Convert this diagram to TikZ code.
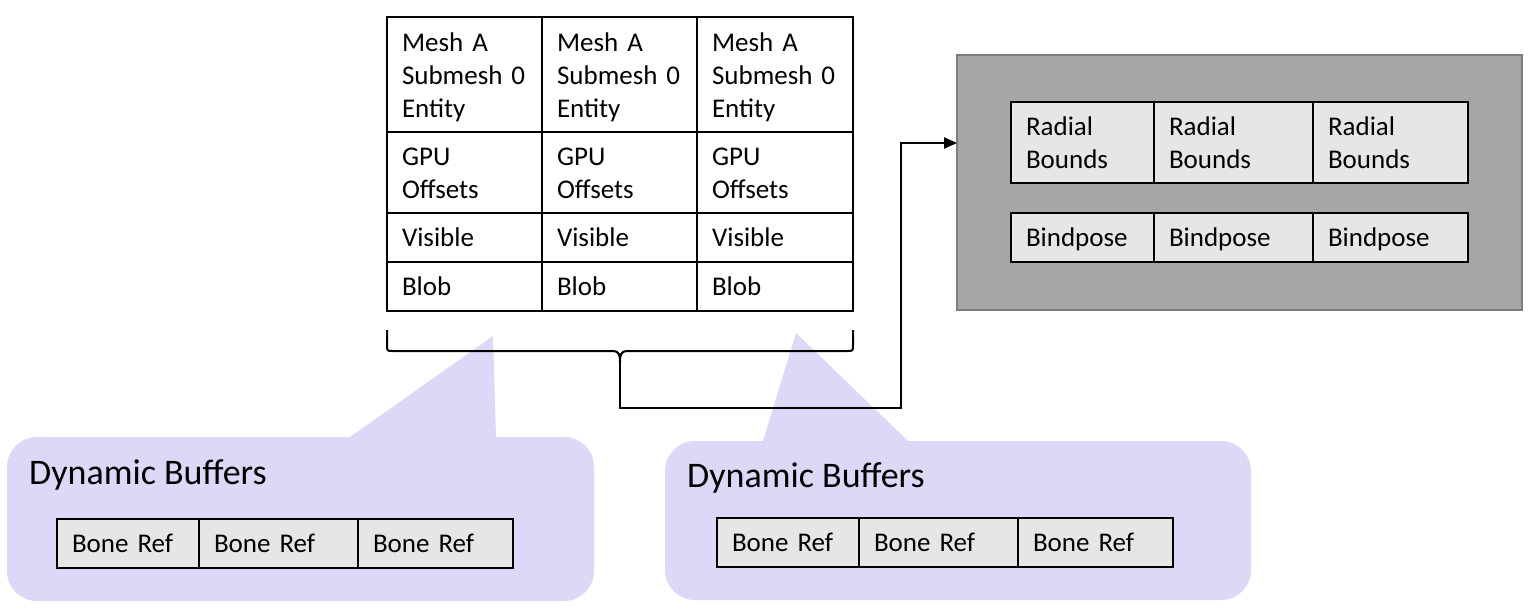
\documentclass[tikz,border=0pt]{standalone}
\usepackage{fontspec}
\setmainfont{Carlito}
\usetikzlibrary{arrows.meta}
\definecolor{bub}{RGB}{220,216,248}
\definecolor{cellgray}{RGB}{230,230,230}
\definecolor{boxgray}{RGB}{166,166,166}
\definecolor{boxedge}{RGB}{125,125,125}
\begin{document}
\begin{tikzpicture}[x=1pt,y=-1pt,
  cell/.style={draw=black, line width=2pt, anchor=north west, outer sep=0pt,
    inner ysep=0pt, inner xsep=15pt, align=left,
    font=\fontsize{27}{33}\selectfont},
  graycell/.style={cell, fill=cellgray},
  bubble/.style={fill=bub, rounded corners=30pt, anchor=north west, outer sep=0pt, inner sep=0pt},
  bubtitle/.style={anchor=base west, inner sep=0pt, font=\fontsize{36}{43}\selectfont},
  conn/.style={line width=2pt, -{Triangle[length=13pt,width=11pt]}}]
\useasboundingbox (0,0) rectangle (1531,614);
\fill[white] (0,0) rectangle (1531,614);

% gray container
\node[draw=boxedge, fill=boxgray, line width=2pt, minimum width=565pt, minimum height=255pt,
  anchor=north west, outer sep=0pt, inner sep=0pt] (gbox) at (957,55) {};

% speech bubbles
\node[bubble, minimum width=587pt, minimum height=164pt] (bubL) at (7,437) {};
\fill[bub] (350,437) -- (493,336) -- (496,437) -- (496,450) -- (350,450) -- cycle;
\node[bubble, minimum width=586pt, minimum height=159pt] (bubR) at (665,441) {};
\fill[bub] (763,441) -- (796,333) -- (908,441) -- (908,455) -- (763,455) -- cycle;
\node[bubtitle] (titleL) at (29,484) {Dynamic Buffers};
\node[bubtitle] (titleR) at (687,487) {Dynamic Buffers};

% main table
\foreach \i/\x/\w in {1/387/125, 2/542/125, 3/697/126} {
  \node[cell, fill=white, text width=\w pt, text height=34pt, text depth=81pt] (mesh\i) at (\x,17) {Mesh A\\Submesh 0\\Entity};
  \node[cell, fill=white, text width=\w pt, text height=33pt, text depth=48pt] (gpu\i) at (\x,132) {GPU\\Offsets};
  \node[cell, fill=white, text width=\w pt, text height=33pt, text depth=16pt] (vis\i) at (\x,213) {Visible};
  \node[cell, fill=white, text width=\w pt, text height=33pt, text depth=16pt] (blob\i) at (\x,262) {Blob};
}

% radial bounds / bindpose
\foreach \i/\x/\w in {1/1011/113, 2/1154/129, 3/1313/125} {
  \node[graycell, text width=\w pt, text height=33pt, text depth=48pt] (rad\i) at (\x,102) {Radial\\Bounds};
  \node[graycell, text width=\w pt, text height=33pt, text depth=16pt] (bind\i) at (\x,213) {Bindpose};
}

% bone refs
\foreach \i/\x/\w in {1/57/112, 2/199/129, 3/358/125} {
  \node[graycell, text width=\w pt, text height=33pt, text depth=16pt] (boneL\i) at (\x,519) {Bone Ref};
}
\foreach \i/\x/\w in {1/717/112, 2/859/129, 3/1018/125} {
  \node[graycell, text width=\w pt, text height=33pt, text depth=16pt] (boneR\i) at (\x,518) {Bone Ref};
}

% brace under the table
\draw[line width=2pt] (387,330) -- (387,345) .. controls (387,351) .. (393,351) -- (613,351)
  .. controls (619,351) and (620,355) .. (620,362)
  .. controls (620,355) and (621,351) .. (627,351) -- (847,351)
  .. controls (853,351) .. (853,345) -- (853,330);
\coordinate (btip) at (620,362);
\coordinate (gin) at (gbox.north west |- 0,143);
\draw[conn] (btip) -- (620,408) -| (901,143) -- (gin);
\end{tikzpicture}
\end{document}
